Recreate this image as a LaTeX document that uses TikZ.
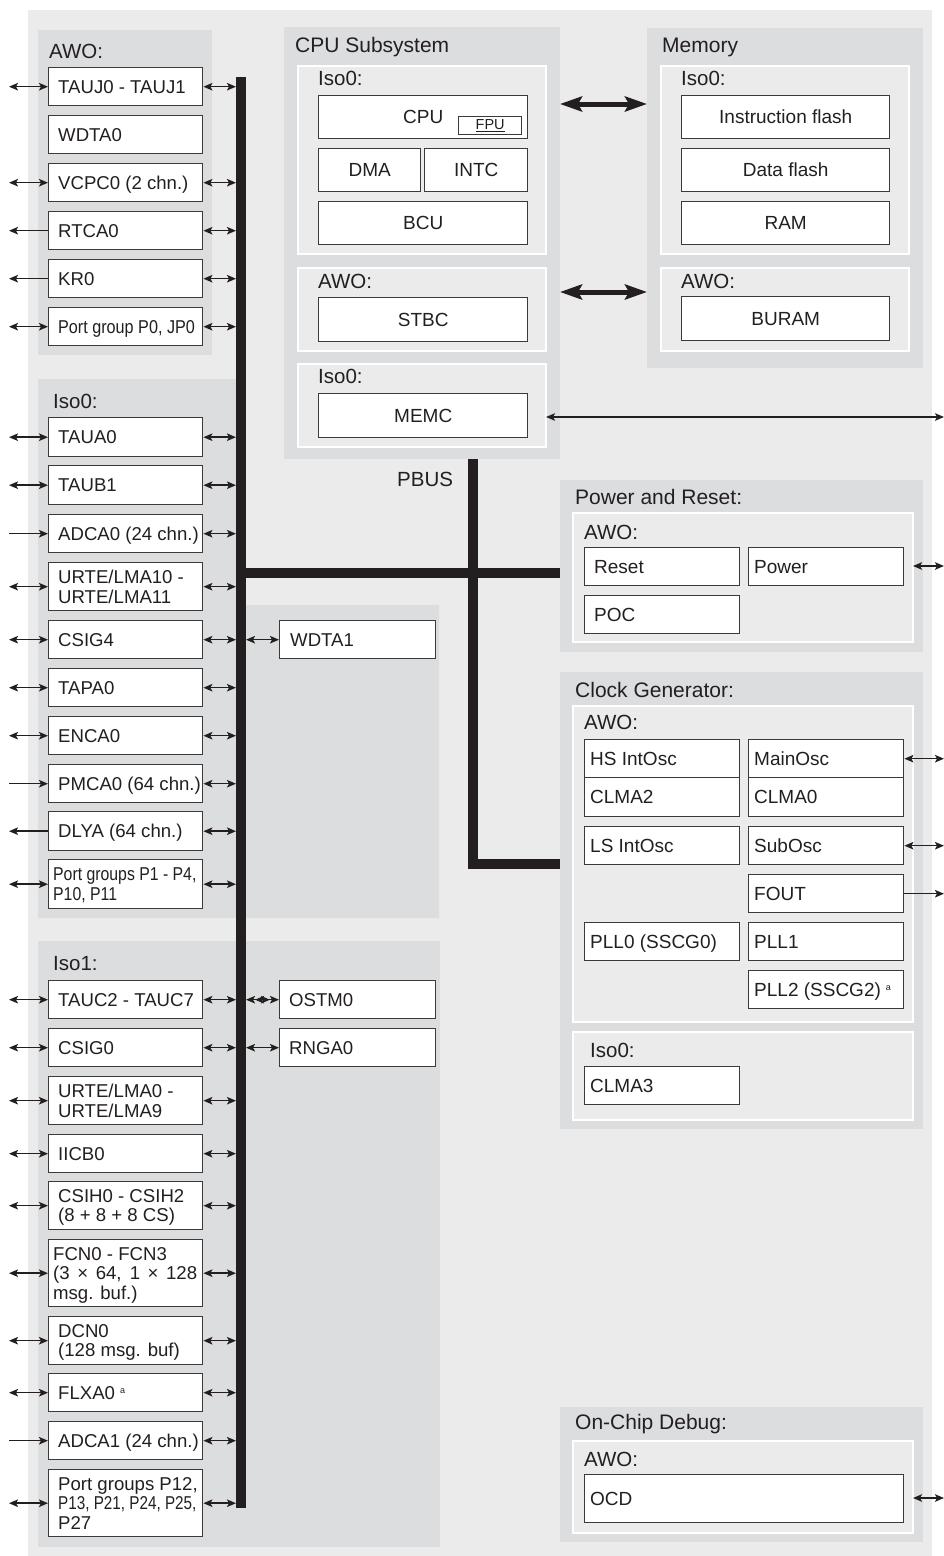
\documentclass[tikz,border=0pt]{standalone}
\usepackage{fontspec}
\setmainfont{Liberation Sans}
\usepackage{graphicx}
\usetikzlibrary{arrows.meta}
\definecolor{outerc}{HTML}{EBEBEB}
\definecolor{panelc}{HTML}{DCDDDF}
\definecolor{subc}{HTML}{EBEBEB}
\definecolor{boxc}{HTML}{3A3A3A}
\definecolor{inkc}{HTML}{231F20}
\newcommand\bxfont{\fontsize{18.6}{19.5}\selectfont}
\newcommand\lblfont{\fontsize{20.5}{22}\selectfont}
\newcommand\ttlfont{\fontsize{21}{23}\selectfont}
\newcommand\cfont{\fontsize{19}{21}\selectfont}
\newcommand\nar[2][0.87]{\scalebox{#1}[1]{#2}}
\newcommand\supa{\hspace{5pt}\raisebox{6pt}{\fontsize{9}{9}\selectfont a}}
% left-aligned box: inset name x1 y1 x2 y2 text
\newcommand\lbox[7]{%
  \pgfmathsetmacro\bw{#5-#3}\pgfmathsetmacro\bh{#6-#4}%
  \node[box,minimum width=\bw pt,minimum height=\bh pt,anchor=north west,
    label={[txtl,xshift=#1pt]west:{#7}}] (#2) at (#3,#4) {};}
% centred box: name x1 y1 x2 y2 text
\newcommand\cbox[6]{%
  \pgfmathsetmacro\bw{#4-#2}\pgfmathsetmacro\bh{#5-#3}%
  \node[box,font=\cfont,minimum width=\bw pt,minimum height=\bh pt,anchor=north west] (#1) at (#2,#3) {#6};}
\begin{document}
\begin{tikzpicture}[x=1pt,y=-1pt,
  >={Stealth[length=9pt,width=7.5pt,inset=2pt]},
  box/.style={draw=boxc,line width=1.4pt,fill=white,inner sep=0pt,text=inkc},
  txtl/.style={anchor=west,align=left,inner sep=0pt,text depth=0pt,font=\bxfont,text=inkc},
  lbl/.style={anchor=base west,inner sep=0pt,font=\lblfont,text=inkc},
  ttl/.style={anchor=base west,inner sep=0pt,font=\ttlfont,text=inkc},
  panel/.style={fill=panelc},
  subp/.style={fill=subc,draw=white,line width=2pt},
  con/.style={draw=inkc,line width=1.5pt},
  dar/.style={con,<->}, rar/.style={con,->},
  ddar/.style={con,<<->>},
  bus/.style={draw=inkc,line width=10pt},
  bigar/.style={draw=inkc,line width=5pt,>={Stealth[length=22pt,width=15pt,inset=4pt]},<->}]
\useasboundingbox (0,0) rectangle (944,1556);
% background and panels
\fill[outerc] (28,10) rectangle (932,1556);
\fill[panel] (38,30) rectangle (212,355);
\fill[panel] (38,379) -- (241,379) -- (241,605) -- (439,605) -- (439,918) -- (38,918) -- cycle;
\fill[panel] (38,941) rectangle (440,1547);
\fill[panel] (284,27) rectangle (560,459);
\draw[subp] (298,66) rectangle (546,254);
\draw[subp] (298,268) rectangle (546,351);
\draw[subp] (298,364) rectangle (546,447);
\fill[panel] (647,28) rectangle (923,368);
\draw[subp] (661,66) rectangle (909,254);
\draw[subp] (661,268) rectangle (909,351);
\fill[panel] (560,480) rectangle (923,652);
\draw[subp] (573,513) rectangle (913,642);
\fill[panel] (560,672) rectangle (923,1129);
\draw[subp] (573,706) rectangle (913,1022);
\draw[subp] (573,1032) rectangle (913,1120);
\fill[panel] (560,1407) rectangle (923,1542);
\draw[subp] (573,1441) rectangle (913,1533);
% panel labels
\node[lbl] (lawo) at (49,58) {AWO:};
\node[lbl] (liso0) at (53,408) {Iso0:};
\node[lbl] (liso1) at (53,970) {Iso1:};
\node[ttl] (lcpu) at (295,52) {CPU Subsystem};
\node[lbl] (lcpuiso) at (318,85) {Iso0:};
\node[lbl] (lcpuawo) at (318,288) {AWO:};
\node[lbl] (lcpuiso2) at (318,383) {Iso0:};
\node[ttl] (lmem) at (662,52) {Memory};
\node[lbl] (lmemiso) at (681,85) {Iso0:};
\node[lbl] (lmemawo) at (681,288) {AWO:};
\node[lbl] (lpbus) at (397,486) {PBUS};
\node[ttl] (lpr) at (575,504) {Power and Reset:};
\node[lbl] (lprawo) at (584,539) {AWO:};
\node[ttl] (lcg) at (575,697) {Clock Generator:};
\node[lbl] (lcgawo) at (584,729) {AWO:};
\node[lbl] (lcgiso) at (590,1057) {Iso0:};
\node[ttl] (locd) at (575,1429) {On-Chip Debug:};
\node[lbl] (locdawo) at (584,1466) {AWO:};
% AWO peripherals
\lbox{10}{tauj}{48}{67}{202}{105}{TAUJ0 - TAUJ1}
\lbox{10}{wdta0}{48}{115}{202}{153}{WDTA0}
\lbox{10}{vcpc}{48}{163}{202}{201}{VCPC0 (2 chn.)}
\lbox{10}{rtca}{48}{211}{202}{249}{RTCA0}
\lbox{10}{kr}{48}{259}{202}{297}{KR0}
\lbox{10}{pg0}{48}{307}{202}{345}{\nar{Port group P0, JP0}}
% Iso0 peripherals
\lbox{10}{taua}{48}{417}{202}{456}{TAUA0}
\lbox{10}{taub}{48}{465}{202}{504}{TAUB1}
\lbox{10}{adca0}{48}{514}{202}{552}{ADCA0 (24 chn.)}
\lbox{10}{urte10}{48}{562}{202}{610}{URTE/LMA10 -\\URTE/LMA11}
\lbox{10}{csig4}{48}{620}{202}{658}{CSIG4}
\lbox{10}{tapa}{48}{668}{202}{706}{TAPA0}
\lbox{10}{enca}{48}{716}{202}{754}{ENCA0}
\lbox{10}{pmca}{48}{764}{202}{802}{PMCA0 (64 chn.)}
\lbox{10}{dlya}{48}{811}{202}{850}{DLYA (64 chn.)}
\lbox{5}{pg1}{48}{859}{202}{908}{\nar[0.85]{Port groups P1 - P4,}\\\nar[0.85]{P10, P11}}
\lbox{11}{wdta1}{279}{620}{435}{658}{WDTA1}
% Iso1 peripherals
\lbox{10}{tauc}{48}{980}{202}{1018}{TAUC2 - TAUC7}
\lbox{10}{csig0}{48}{1028}{202}{1066}{CSIG0}
\lbox{10}{urte0}{48}{1076}{202}{1124}{URTE/LMA0 -\\URTE/LMA9}
\lbox{10}{iicb}{48}{1134}{202}{1172}{IICB0}
\lbox{10}{csih}{48}{1181}{202}{1229}{CSIH0 - CSIH2\\(8 + 8 + 8 CS)}
\lbox{5}{fcn}{48}{1239}{202}{1306}{FCN0 - FCN3\\\makebox[144pt][s]{(3 × 64, 1 × 128}\\msg. buf.)}
\lbox{10}{dcn}{48}{1316}{202}{1364}{DCN0\\(128 msg. buf)}
\lbox{10}{flxa}{48}{1373}{202}{1411}{FLXA0\supa}
\lbox{10}{adca1}{48}{1421}{202}{1459}{ADCA1 (24 chn.)}
\lbox{10}{pg12}{48}{1469}{202}{1536}{Port groups P12,\\\nar[0.82]{P13, P21, P24, P25,}\\P27}
\lbox{10}{ostm}{279}{980}{435}{1018}{OSTM0}
\lbox{10}{rnga}{279}{1028}{435}{1066}{RNGA0}
% CPU subsystem and memory
\cbox{cpu}{318}{95}{527}{138}{CPU}
\node[box,font=\fontsize{14.5}{15}\selectfont,minimum width=63pt,minimum height=18pt,anchor=north west] (fpu) at (458,116) {\underline{FPU}};
\cbox{dma}{318}{148}{420}{191}{DMA}
\cbox{intc}{424}{148}{527}{191}{INTC}
\cbox{bcu}{318}{201}{527}{244}{BCU}
\cbox{stbc}{318}{297}{527}{341}{STBC}
\cbox{memc}{318}{393}{527}{437}{MEMC}
\cbox{iflash}{681}{95}{889}{138}{Instruction flash}
\cbox{dflash}{681}{148}{889}{191}{Data flash}
\cbox{ram}{681}{201}{889}{244}{RAM}
\cbox{buram}{681}{296}{889}{340}{BURAM}
% power, clock, debug
\tikzset{txtl/.append style={font=\cfont}}
\lbox{10}{reset}{584}{547}{739}{585}{Reset}
\lbox{6}{power}{748}{547}{903}{585}{Power}
\lbox{10}{poc}{584}{595}{739}{633}{POC}
\lbox{6}{hsint}{584}{739}{739}{777}{HS IntOsc}
\lbox{6}{clma2}{584}{777}{739}{816}{CLMA2}
\lbox{6}{mainosc}{748}{739}{903}{777}{MainOsc}
\lbox{6}{clma0}{748}{777}{903}{816}{CLMA0}
\lbox{6}{lsint}{584}{826}{739}{864}{LS IntOsc}
\lbox{6}{subosc}{748}{826}{903}{864}{SubOsc}
\lbox{6}{fout}{748}{874}{903}{912}{FOUT}
\lbox{6}{pll0}{584}{922}{739}{960}{PLL0 (SSCG0)}
\lbox{6}{pll1}{748}{922}{903}{960}{PLL1}
\lbox{6}{pll2}{748}{970}{903}{1008}{PLL2 (SSCG2)\supa}
\lbox{6}{clma3}{584}{1066}{739}{1104}{CLMA3}
\lbox{6}{ocd}{584}{1474}{903}{1522}{OCD}
% buses
\coordinate (busTop) at (241,77);
\coordinate (busBot) at (241,1508);
\coordinate (busJ) at (241,573);
\coordinate (prW) at (560,573);
\coordinate (pbusTop) at (473,459);
\coordinate (pbusCorner) at (473,864);
\coordinate (cgW) at (560,864);
\draw[bus] (busTop) -- (busBot);
\draw[bus] (busJ) -- (prW);
\draw[bus,line join=miter] (pbusTop) -- (pbusCorner) -- (cgW);
% connector end points
\coordinate (extL) at (9,0);
\coordinate (extR) at (944,0);
\coordinate (busL) at (236,0);
\coordinate (busR) at (246,0);
% left column: outside connectors
\foreach \n in {tauj,vcpc,pg0,taua,taub,urte10,csig4,tapa,enca,pg1,tauc,csig0,urte0,iicb,csih,fcn,dcn,flxa,pg12}
  \draw[dar] (\n.west) -- (\n.west -| extL);
\foreach \n in {rtca,kr,dlya}
  \draw[rar] (\n.west) -- (\n.west -| extL);
\foreach \n in {adca0,pmca,adca1}
  \draw[rar] (\n.west -| extL) -- (\n.west);
% left column: bus connectors
\foreach \n in {tauj,vcpc,rtca,kr,pg0,taua,taub,adca0,urte10,csig4,tapa,enca,pmca,dlya,pg1,tauc,csig0,urte0,iicb,csih,fcn,dcn,flxa,adca1,pg12}
  \draw[dar] (\n.east) -- (\n.east -| busL);
\draw[dar] (wdta1.west -| busR) -- (wdta1.west);
\draw[ddar] (ostm.west -| busR) -- (ostm.west);
\draw[dar] (rnga.west -| busR) -- (rnga.west);
% CPU <-> memory
\coordinate (cpuE1) at (560,104);
\coordinate (memW1) at (647,104);
\coordinate (cpuE2) at (560,292);
\coordinate (memW2) at (647,292);
\draw[bigar] (cpuE1) -- (memW1);
\draw[bigar] (cpuE2) -- (memW2);
% right side connectors
\coordinate (memcE) at (546,417);
\draw[dar] (memcE) -- (memcE -| extR);
\coordinate (prE) at (913,566);
\draw[dar] (prE) -- (prE -| extR);
\draw[dar] (mainosc.east) -- (mainosc.east -| extR);
\draw[dar] (subosc.east) -- (subosc.east -| extR);
\draw[rar] (fout.east) -- (fout.east -| extR);
\coordinate (ocdE) at (913,1498);
\draw[dar] (ocdE) -- (ocdE -| extR);
\end{tikzpicture}
\end{document}
